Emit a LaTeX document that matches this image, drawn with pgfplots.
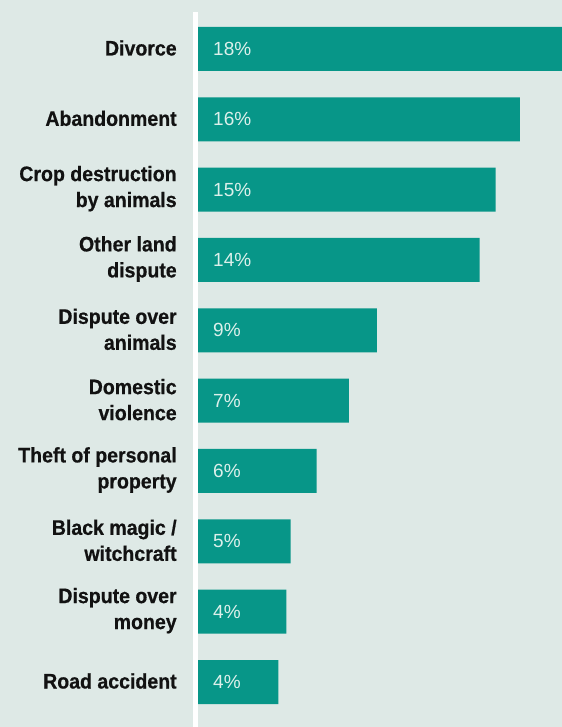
\documentclass[border=0pt]{standalone}
\usepackage{pgfplots}
\pgfplotsset{compat=1.18}
\usepackage{fontspec}
\setmainfont{Liberation Sans}
\newfontfamily\labelfont[FakeStretch=0.93, BoldFeatures={FakeBold=0.6}]{Liberation Sans}
\definecolor{bg}{HTML}{DEE9E6}
\definecolor{barc}{HTML}{079688}
\definecolor{lbl}{HTML}{DCF0EB}
\definecolor{txt}{HTML}{121212}
\begin{document}
\begin{tikzpicture}[x=1bp,y=1bp]
\fill[bg] (0,0) rectangle (562,727);
\draw[white, line width=5bp] (195.5,0) -- (195.5,715);
\begin{axis}[
  at={(198bp,9.83bp)}, anchor=south west,
  scale only axis, width=364bp, height=703.34bp,
  xmin=0, xmax=18.1, ymin=-0.5, ymax=9.5,
  axis lines=left, axis line style={draw=none}, tick style={draw=none},
  xtick=\empty,
  ytick={0,...,9},
  yticklabels={Road accident,{Dispute over\\money},{Black magic /\\witchcraft},{Theft of personal\\property},{Domestic\\violence},{Dispute over\\animals},{Other land\\dispute},{Crop destruction\\by animals},Abandonment,Divorce},
  yticklabel style={font=\labelfont\bfseries\fontsize{21bp}{26bp}\selectfont, align=right, text=txt, inner sep=0pt, xshift=-19bp, yshift=1bp},
]
\addplot[xbar, bar width=44bp, fill=barc, draw=none] coordinates {(4.0,0) (4.4,1) (4.6,2) (5.9,3) (7.5,4) (8.9,5) (14.0,6) (14.8,7) (16.0,8) (18.3,9)};
\addplot[draw=none, mark=none, nodes near coords, point meta=explicit symbolic,
  nodes near coords style={anchor=west, xshift=15bp, text=lbl, font=\fontsize{19bp}{22bp}\selectfont, inner sep=0pt}]
  coordinates {(0,0) [4\%] (0,1) [4\%] (0,2) [5\%] (0,3) [6\%] (0,4) [7\%] (0,5) [9\%] (0,6) [14\%] (0,7) [15\%] (0,8) [16\%] (0,9) [18\%]};
\end{axis}
\pgfresetboundingbox
\useasboundingbox (0,0) rectangle (562,727);
\end{tikzpicture}
\end{document}
